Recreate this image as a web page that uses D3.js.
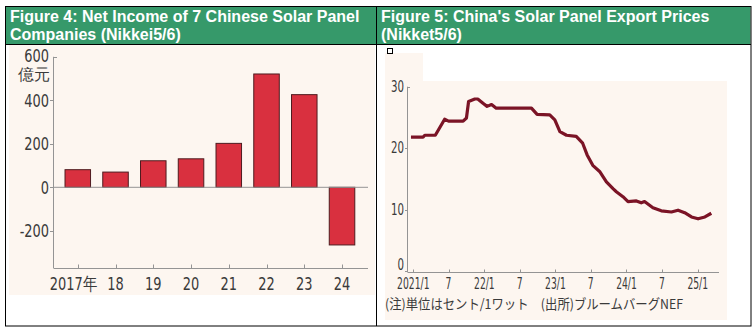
<!DOCTYPE html>
<html lang="en">
<head>
<meta charset="utf-8">
<title>Chinese solar panel makers</title>
<script src="https://cdn.jsdelivr.net/npm/d3@7"></script>
<style>
    body { margin: 0; background: #fff; }
    .lbl { font-family: "Liberation Sans Narrow", "DejaVu Sans Condensed", sans-serif; fill: #3a3a3a; }
    .head { font-family: "Liberation Sans", Arial, sans-serif; font-weight: bold; font-size: 16px; fill: #fff; }
</style>
</head>
<body>
<script>

// Figure 4: net income of 7 makers (100 million yuan)
var years = ["2017年", "18", "19", "20", "21", "22", "23", "24"];
var income = [81, 70, 122, 131, 202, 521, 426, -265];
var incomeTicks = [-200, 0, 200, 400, 600];

// Figure 5: export price (cents per watt)
var priceDates = ["2020-12-20", "2021-02-20", "2021-03-01", "2021-04-24", "2021-06-11", "2021-07-01",
    "2021-09-14", "2021-10-01", "2021-10-12", "2021-11-13", "2021-11-28", "2021-12-25", "2022-01-15",
    "2022-02-07", "2022-03-03", "2022-08-31", "2022-09-29", "2022-12-03", "2022-12-29", "2023-01-24",
    "2023-02-27", "2023-04-18", "2023-05-21", "2023-06-13", "2023-07-12", "2023-08-16", "2023-09-20",
    "2023-10-24", "2023-11-10", "2023-12-14", "2024-01-09", "2024-02-21", "2024-03-17", "2024-04-03",
    "2024-05-16", "2024-06-28", "2024-08-19", "2024-09-22", "2024-10-26", "2024-11-30", "2025-01-03",
    "2025-02-07", "2025-03-12"];
var priceValues = [21.8, 21.8, 22.1, 22.1, 24.7, 24.4,
    24.4, 24.9, 27.6, 28.0, 28.0, 27.3, 26.8,
    27.1, 26.5, 26.5, 25.5, 25.4, 24.6, 22.7,
    22.1, 21.9, 20.8, 18.9, 17.2, 16.2, 14.5,
    13.4, 12.9, 12.1, 11.3, 11.4, 11.1, 11.3,
    10.3, 9.8, 9.6, 9.9, 9.5, 8.8, 8.5,
    8.8, 9.4];
var priceTicks = [0, 10, 20, 30];
var monthTicks = ["2021-01-01", "2021-07-01", "2022-01-01", "2022-07-01", "2023-01-01",
    "2023-07-01", "2024-01-01", "2024-07-01", "2025-01-01"];
var monthLabels = ["2021/1", "7", "22/1", "7", "23/1", "7", "24/1", "7", "25/1"];

var W = 755, H = 332;
var axisGrey = "#949494";
var parseDate = d3.timeParse("%Y-%m-%d");

var svg = d3.select("body")
    .append("svg")
    .attr("width", W)
    .attr("height", H);

// ---- panels and headers ----
svg.append("rect").attr("x", 9).attr("y", 45).attr("width", 366).attr("height", 250).attr("fill", "#fdf6f0");
svg.append("rect").attr("x", 385).attr("y", 53).attr("width", 342).attr("height", 267).attr("fill", "#fdf6f0");
svg.append("rect").attr("x", 423).attr("y", 53).attr("width", 304).attr("height", 28).attr("fill", "#fff");

svg.append("rect").attr("x", 5.5).attr("y", 6.5).attr("width", 745).attr("height", 37.5).attr("fill", "#36996a");

var frame = svg.append("g").attr("stroke", "#000").attr("stroke-width", 1).attr("fill", "none");
frame.append("rect").attr("x", 5.5).attr("y", 6.5).attr("width", 745.5).attr("height", 319.5);
frame.append("line").attr("x1", 5.5).attr("x2", 751).attr("y1", 44.5).attr("y2", 44.5);
frame.append("line").attr("x1", 376.5).attr("x2", 376.5).attr("y1", 6.5).attr("y2", 326);

svg.append("text").attr("class", "head").attr("x", 10).attr("y", 22).text("Figure 4: Net Income of 7 Chinese Solar Panel");
svg.append("text").attr("class", "head").attr("x", 10).attr("y", 40).text("Companies (Nikkei5/6)");
svg.append("text").attr("class", "head").attr("x", 381).attr("y", 22).text("Figure 5: China's Solar Panel Export Prices");
svg.append("text").attr("class", "head").attr("x", 381).attr("y", 40).text("(Nikket5/6)");

// little checkbox under the right header
svg.append("rect").attr("x", 387.5).attr("y", 48.5).attr("width", 5).attr("height", 5)
    .attr("fill", "#fff").attr("stroke", "#000");

// ---- Figure 4: bars ----
var xBand = d3.scaleBand()
    .domain(years)
    .range([58.9, 360.9])
    .paddingInner(0.324)
    .paddingOuter(0.162);

var yInc = d3.scaleLinear()
    .domain([-371, 600])
    .range([268, 56.8]);

var g4 = svg.append("g");

// y axis line and ticks
g4.append("line").attr("x1", 53.5).attr("x2", 53.5)
    .attr("y1", yInc(600)).attr("y2", 268).attr("stroke", axisGrey);
g4.selectAll(".ytick")
    .data(incomeTicks)
    .enter()
    .append("line")
    .attr("x1", function(d) { return d == 600 ? 53.5 : 50; })
    .attr("x2", function(d) { return d == 600 ? 57 : 53.5; })
    .attr("y1", function(d) { return Math.round(yInc(d)) + 0.5; })
    .attr("y2", function(d) { return Math.round(yInc(d)) + 0.5; })
    .attr("stroke", axisGrey);
g4.selectAll(".ylab")
    .data(incomeTicks)
    .enter()
    .append("text")
    .attr("class", "lbl")
    .attr("transform", function(d) { return "translate(49," + (yInc(d) + (d == 600 ? 5 : 6.5)) + ") scale(0.8,1)"; })
    .attr("text-anchor", "end")
    .attr("font-size", 18)
    .text(function(d) { return d; });
g4.append("text").attr("class", "lbl").attr("x", 50).attr("y", 80).attr("text-anchor", "end")
    .attr("font-family", "Noto Sans CJK JP").attr("font-size", 16).text("億元");

// x axis line with upward ticks
g4.append("line").attr("x1", 53.5).attr("x2", 368).attr("y1", 268.5).attr("y2", 268.5).attr("stroke", axisGrey);
g4.selectAll(".xtick")
    .data(years)
    .enter()
    .append("line")
    .attr("x1", function(d) { return Math.round(xBand(d) + xBand.bandwidth() / 2) + 0.5; })
    .attr("x2", function(d) { return Math.round(xBand(d) + xBand.bandwidth() / 2) + 0.5; })
    .attr("y1", 264.5).attr("y2", 268.5)
    .attr("stroke", axisGrey);
g4.selectAll(".xlab")
    .data(years)
    .enter()
    .append("text")
    .attr("class", "lbl")
    .attr("transform", function(d, i) {
        var cx = xBand(d) + xBand.bandwidth() / 2 - (i == 0 ? 4.5 : 0);
        return "translate(" + cx + ",290) scale(0.8,1)";
    })
    .attr("text-anchor", "middle")
    .attr("font-size", 18)
    .text(function(d) { return d; });

// bars
g4.selectAll(".bar")
    .data(income)
    .enter()
    .append("rect")
    .attr("x", function(d, i) { return xBand(years[i]); })
    .attr("y", function(d) { return yInc(Math.max(0, d)); })
    .attr("width", xBand.bandwidth())
    .attr("height", function(d) { return Math.abs(yInc(d) - yInc(0)); })
    .attr("fill", "#d9303f")
    .attr("stroke", "#4e1b1f")
    .attr("stroke-width", 1);

// zero line
g4.append("line").attr("x1", 53.5).attr("x2", 368).attr("y1", yInc(0)).attr("y2", yInc(0))
    .attr("stroke", axisGrey);

// ---- Figure 5: price line ----
var xTime = d3.scaleTime()
    .domain([parseDate("2021-01-01"), parseDate("2025-01-01")])
    .range([413.3, 697.7]);

var yPrice = d3.scaleLinear()
    .domain([0, 30])
    .range([271, 86.7]);

var g5 = svg.append("g");

g5.append("line").attr("x1", 407.5).attr("x2", 407.5).attr("y1", yPrice(30)).attr("y2", 272)
    .attr("stroke", axisGrey);
g5.selectAll(".ytick")
    .data(priceTicks)
    .enter()
    .append("line")
    .attr("x1", function(d) { return d == 30 ? 407.5 : 405; })
    .attr("x2", function(d) { return d == 30 ? 410 : 407.5; })
    .attr("y1", function(d) { return Math.round(yPrice(d)) + 0.5; })
    .attr("y2", function(d) { return Math.round(yPrice(d)) + 0.5; })
    .attr("stroke", axisGrey);
g5.selectAll(".ylab")
    .data(priceTicks)
    .enter()
    .append("text")
    .attr("class", "lbl")
    .attr("transform", function(d) { return "translate(404," + (yPrice(d) + (d == 0 ? -1 : 5)) + ") scale(0.76,1)"; })
    .attr("text-anchor", "end")
    .attr("font-size", 15)
    .text(function(d) { return d; });

g5.append("line").attr("x1", 407.5).attr("x2", 719).attr("y1", 272.5).attr("y2", 272.5)
    .attr("stroke", axisGrey);
g5.selectAll(".xtick")
    .data(monthTicks)
    .enter()
    .append("line")
    .attr("x1", function(d) { return Math.round(xTime(parseDate(d))) + 0.5; })
    .attr("x2", function(d) { return Math.round(xTime(parseDate(d))) + 0.5; })
    .attr("y1", 269.5).attr("y2", 272.5)
    .attr("stroke", axisGrey);
g5.selectAll(".xlab")
    .data(monthTicks)
    .enter()
    .append("text")
    .attr("class", "lbl")
    .attr("transform", function(d) { return "translate(" + xTime(parseDate(d)) + ",289) scale(0.66,1)"; })
    .attr("text-anchor", "middle")
    .attr("font-size", 15.5)
    .text(function(d, i) { return monthLabels[i]; });

var priceData = priceDates.map(function(d, i) {
    return { date: parseDate(d), value: priceValues[i] };
});

var line = d3.line()
    .x(function(d) { return xTime(d.date); })
    .y(function(d) { return yPrice(d.value); });

g5.append("path")
    .datum(priceData)
    .attr("d", line)
    .attr("fill", "none")
    .attr("stroke", "#7b1426")
    .attr("stroke-width", 3.2)
    .attr("stroke-linejoin", "round");

// source note
g5.append("text")
    .attr("x", 385)
    .attr("y", 309)
    .attr("font-family", "Noto Sans CJK JP")
    .attr("font-size", 13.5)
    .attr("fill", "#3a3a3a")
    .attr("textLength", 298)
    .attr("lengthAdjust", "spacingAndGlyphs")
    .text("(注)単位はセント/1ワット　(出所)ブルームバーグNEF");

</script>
</body>
</html>
